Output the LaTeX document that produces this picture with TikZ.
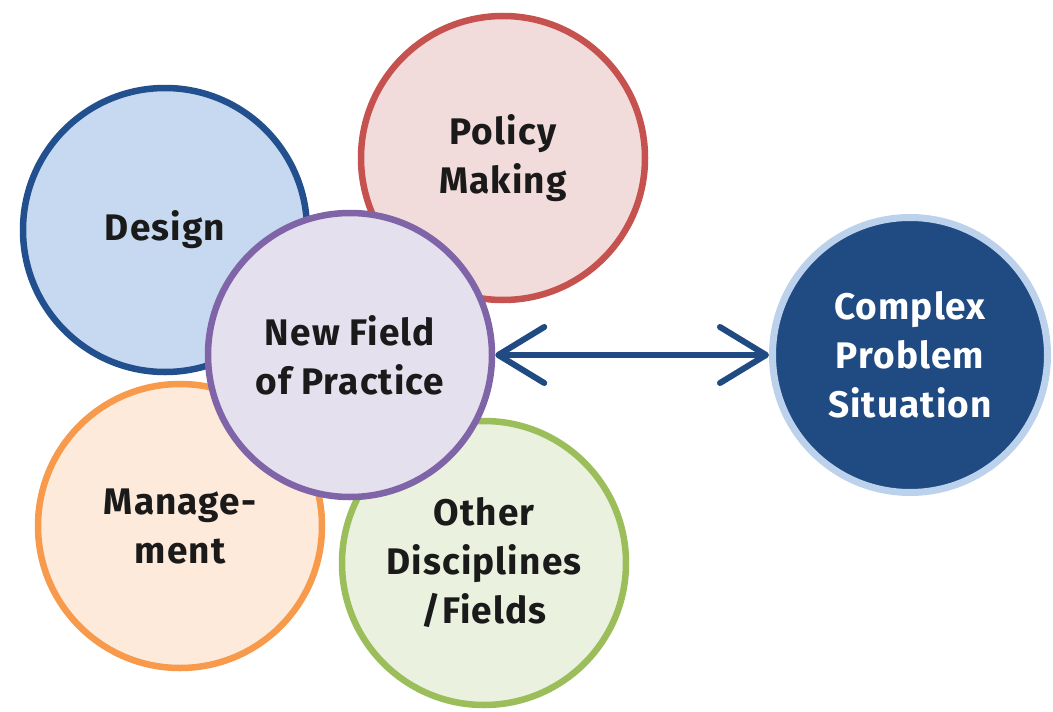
\documentclass[tikz,border=0pt]{standalone}
\usepackage{fontspec}
\setmainfont{Fira Sans}[LetterSpace=3]
\usetikzlibrary{arrows.meta}
\definecolor{dblue}{HTML}{22508F}
\definecolor{lblue}{HTML}{C6D9F0}
\definecolor{pred}{HTML}{C65250}
\definecolor{lred}{HTML}{F2DCDB}
\definecolor{purp}{HTML}{8064A8}
\definecolor{lpurp}{HTML}{E5E0EE}
\definecolor{orng}{HTML}{F79A4C}
\definecolor{lorng}{HTML}{FDEADB}
\definecolor{grn}{HTML}{9BBE5A}
\definecolor{lgrn}{HTML}{EBF1DF}
\definecolor{navy}{HTML}{1F4A82}
\definecolor{ring}{HTML}{BCD2EC}
\definecolor{txt}{HTML}{1A1A1A}
\begin{document}
\begin{tikzpicture}[x=1pt,y=-1pt,
  bubble/.style={circle, line width=6.5pt, minimum size=284pt, inner sep=0pt,
    align=center, text=txt, font=\fontsize{37}{49}\selectfont\bfseries},
  link/.style={navy, line width=6pt,
    {Straight Barb[length=46pt,width=56pt,round]}-{Straight Barb[length=46pt,width=56pt,round]}}]
\useasboundingbox[fill=white] (0,0) rectangle (1053,712);
\node[bubble, draw=dblue, fill=lblue] (design) at (165,230) {Design};
\node[bubble, draw=pred, fill=lred] (policy) at (503,158) {Policy\\Making};
\node[bubble, draw=orng, fill=lorng] (mgmt) at (180,526) {Manage-\\ment};
\node[bubble, draw=grn, fill=lgrn] (other) at (484,563) {Other\\Disciplines\\/Fields};
\node[bubble, draw=purp, fill=lpurp] (nf) at (350,355) {New Field\\of Practice};
\node[bubble, draw=ring, fill=navy, line width=7pt, minimum size=275pt, text=white] (cp) at (910,355) {Complex\\Problem\\Situation};
\draw[link] (nf) -- (cp);
\end{tikzpicture}
\end{document}
